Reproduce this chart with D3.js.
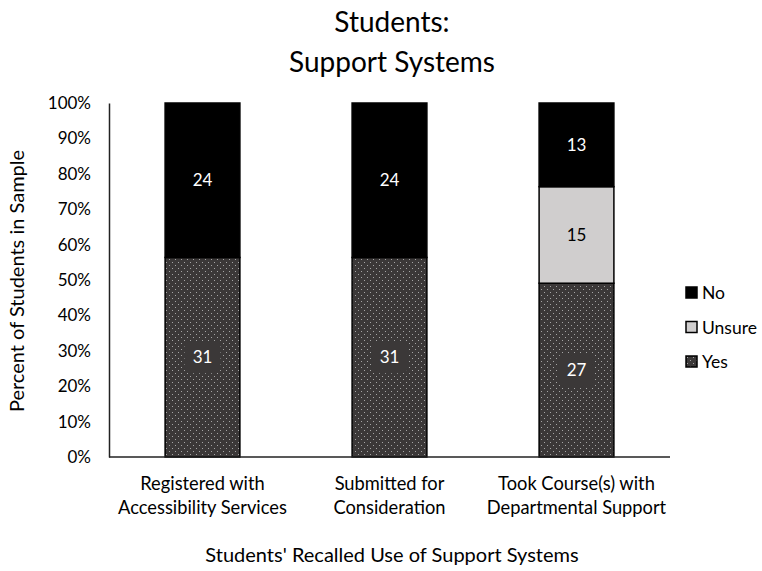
<!DOCTYPE html>
<html>
<head>
<meta charset="utf-8">
<script src="https://cdn.jsdelivr.net/npm/d3@7"></script>
<style>
  body { margin: 0; background: #fff; }
  text { font-family: Lato, "Open Sans", sans-serif; fill: #000; }
</style>
</head>
<body>
<div class="chartBox"></div>
<script>
var categories = [
  ['Registered with', 'Accessibility Services'],
  ['Submitted for', 'Consideration'],
  ['Took Course(s) with', 'Departmental Support']
];
var seriesNames = ['Yes', 'Unsure', 'No'];
var yesCounts    = [31, 31, 27];
var unsureCounts = [0, 0, 15];
var noCounts     = [24, 24, 13];
var yTicks = [0, 0.1, 0.2, 0.3, 0.4, 0.5, 0.6, 0.7, 0.8, 0.9, 1];

var w = 762, h = 571;
var plotLeft = 109, plotRight = 670, plotTop = 103, plotBottom = 457;

var svg = d3.select('.chartBox')
  .append('svg')
  .attr('width', w)
  .attr('height', h);

// dotted fill for the "Yes" series
var defs = svg.append('defs');
var pat = defs.append('pattern')
  .attr('id', 'dots')
  .attr('patternUnits', 'userSpaceOnUse')
  .attr('width', 6)
  .attr('height', 6);
pat.append('rect').attr('width', 6).attr('height', 6).attr('fill', '#3b3838');
pat.append('rect').attr('x', 1).attr('y', 1).attr('width', 1).attr('height', 1).attr('fill', '#a5a5a5');
pat.append('rect').attr('x', 4).attr('y', 4).attr('width', 1).attr('height', 1).attr('fill', '#a5a5a5');

var fills = { Yes: 'url(#dots)', Unsure: '#d0cece', No: '#000' };
var labelColor = { Yes: '#fff', Unsure: '#000', No: '#fff' };

var rows = categories.map(function(c, i) {
  return { idx: i, Yes: yesCounts[i], Unsure: unsureCounts[i], No: noCounts[i],
           total: yesCounts[i] + unsureCounts[i] + noCounts[i] };
});

var stacked = d3.stack()
  .keys(seriesNames)
  .value(function(d, k) { return d[k] / d.total; })(rows);

var x = d3.scaleBand()
  .domain(d3.range(categories.length))
  .range([plotLeft, plotRight])
  .paddingInner(0.6)
  .paddingOuter(0.3);

var y = d3.scaleLinear().domain([0, 1]).range([plotBottom, plotTop]);

// title
svg.append('text')
  .attr('x', 392).attr('y', 32)
  .attr('text-anchor', 'middle')
  .style('font-size', '28px')
  .text('Students:');
svg.append('text')
  .attr('x', 392).attr('y', 72)
  .attr('text-anchor', 'middle')
  .style('font-size', '28px')
  .text('Support Systems');

// y axis
var yAxis = svg.append('g')
  .attr('transform', 'translate(' + plotLeft + ',0)')
  .call(d3.axisLeft(y).tickValues(yTicks).tickFormat(d3.format('.0%')).tickSize(0).tickPadding(18));
yAxis.select('.domain').attr('stroke', '#222').attr('stroke-width', 1.5);
yAxis.selectAll('text').style('font-size', '17px').style('font-family', 'Lato, "Open Sans", sans-serif').attr('fill', '#000');

// bars
var groups = svg.selectAll('g.series')
  .data(stacked)
  .enter()
  .append('g')
  .attr('class', 'series');

groups.selectAll('rect')
  .data(function(s) { return s.map(function(d) { d.key = s.key; return d; }); })
  .enter()
  .filter(function(d) { return d[1] - d[0] > 0; })
  .append('rect')
  .attr('x', function(d) { return x(d.data.idx); })
  .attr('width', x.bandwidth())
  .attr('y', function(d) { return y(d[1]); })
  .attr('height', function(d) { return y(d[0]) - y(d[1]); })
  .attr('fill', function(d) { return fills[d.key]; })
  .attr('stroke', '#000')
  .attr('stroke-width', 1.5);

// x axis line
svg.append('line')
  .attr('x1', plotLeft).attr('x2', plotRight)
  .attr('y1', plotBottom).attr('y2', plotBottom)
  .attr('stroke', '#222').attr('stroke-width', 1.5);

// value labels
stacked.forEach(function(s) {
  s.forEach(function(d) {
    var v = d.data[s.key];
    if (!v) return;
    var cx = x(d.data.idx) + x.bandwidth() / 2;
    var cy = (y(d[0]) + y(d[1])) / 2;
    if (s.key === 'Yes') {
      svg.append('rect')
        .attr('x', cx - 18).attr('y', cy - 16)
        .attr('width', 36).attr('height', 32)
        .attr('rx', 5)
        .attr('fill', '#3b3838');
    }
    svg.append('text')
      .attr('x', cx).attr('y', cy + 6)
      .attr('text-anchor', 'middle')
      .style('font-size', '17px')
      .style('fill', labelColor[s.key])
      .text(v);
  });
});

// category labels
categories.forEach(function(c, i) {
  var t = svg.append('text')
    .attr('text-anchor', 'middle')
    .style('font-size', '18.3px');
  c.forEach(function(line, j) {
    t.append('tspan')
      .attr('x', x(i) + x.bandwidth() / 2)
      .attr('y', 490 + j * 24)
      .text(line);
  });
});

// axis titles
svg.append('text')
  .attr('x', 392).attr('y', 562)
  .attr('text-anchor', 'middle')
  .style('font-size', '20px')
  .text("Students' Recalled Use of Support Systems");
svg.append('text')
  .attr('transform', 'translate(24,281) rotate(-90)')
  .attr('text-anchor', 'middle')
  .style('font-size', '20px')
  .text('Percent of Students in Sample');

// legend
var legendOrder = ['No', 'Unsure', 'Yes'];
var legend = svg.selectAll('g.legend')
  .data(legendOrder)
  .enter()
  .append('g')
  .attr('class', 'legend')
  .attr('transform', function(d, i) { return 'translate(686,' + (287 + i * 34.5) + ')'; });
legend.append('rect')
  .attr('width', 11).attr('height', 11)
  .attr('fill', function(d) { return fills[d]; })
  .attr('stroke', '#000')
  .attr('stroke-width', 1.5);
legend.append('text')
  .attr('x', 16).attr('y', 12)
  .style('font-size', '17.5px')
  .text(function(d) { return d; });
</script>
</body>
</html>
